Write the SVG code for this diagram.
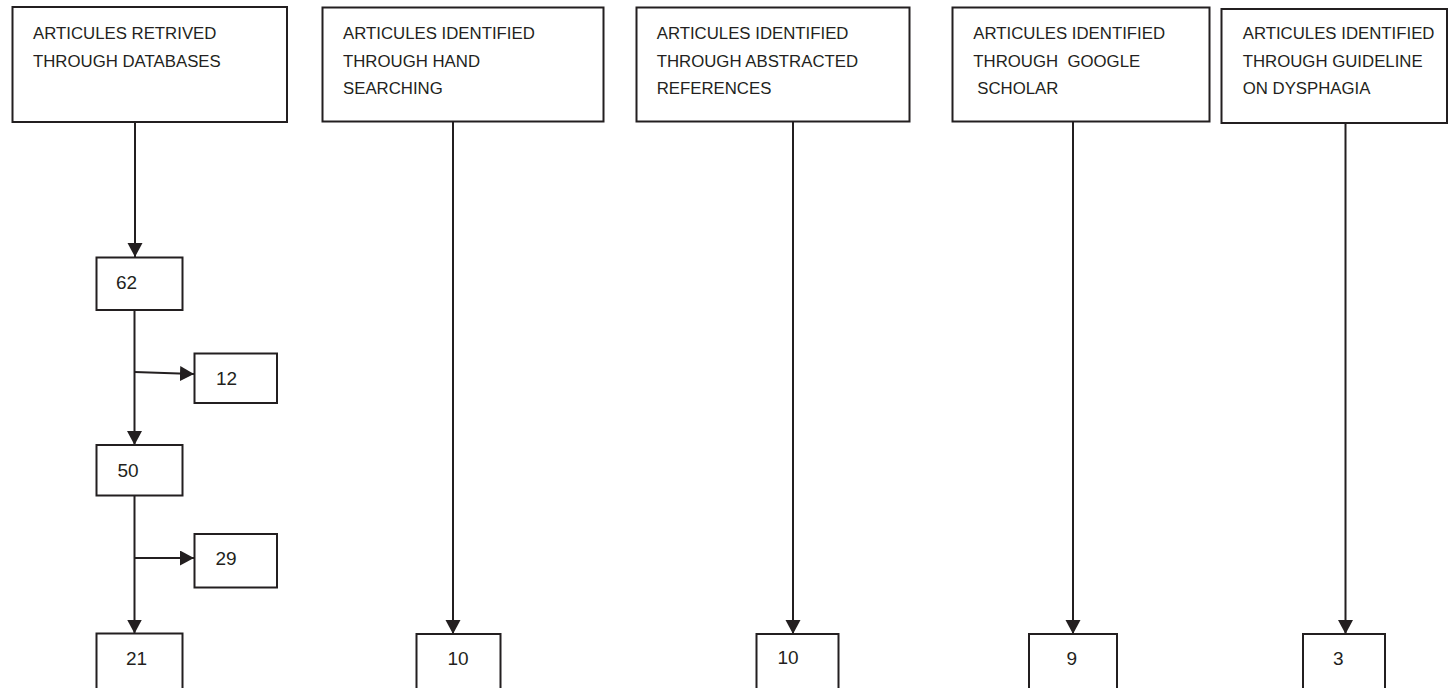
<svg xmlns="http://www.w3.org/2000/svg" width="1449" height="688" viewBox="0 0 1449 688">
  <style>
    .box { fill: #ffffff; stroke: #231f20; stroke-width: 2; }
    .hdr { font-family: "Liberation Sans", Arial, sans-serif; font-size: 16.8px; fill: #231f20; }
    .num { font-family: "Liberation Sans", Arial, sans-serif; font-size: 19px; fill: #231f20; }
    .conn { fill: none; stroke: #231f20; stroke-width: 2; }
  </style>
  <defs>
    <marker id="arrow" markerUnits="userSpaceOnUse" markerWidth="15" markerHeight="16" refX="14" refY="7.5" orient="auto">
      <path d="M0,0 L14,7.5 L0,15 z" fill="#231f20"/>
    </marker>
  </defs>
  <rect width="1449" height="688" fill="#ffffff"/>

  <g id="connectors">
    <line class="conn" x1="135" y1="122" x2="135" y2="257" marker-end="url(#arrow)"/>
    <line class="conn" x1="134.5" y1="310" x2="134.5" y2="445" marker-end="url(#arrow)"/>
    <line class="conn" x1="134.5" y1="372" x2="194" y2="374" marker-end="url(#arrow)"/>
    <line class="conn" x1="134.5" y1="496" x2="134.5" y2="633.5" marker-end="url(#arrow)"/>
    <line class="conn" x1="134.5" y1="558" x2="194" y2="558" marker-end="url(#arrow)"/>
    <line class="conn" x1="453" y1="122" x2="453" y2="634" marker-end="url(#arrow)"/>
    <line class="conn" x1="793" y1="122" x2="793" y2="634" marker-end="url(#arrow)"/>
    <line class="conn" x1="1073" y1="122" x2="1073" y2="634" marker-end="url(#arrow)"/>
    <line class="conn" x1="1345.5" y1="123" x2="1345.5" y2="634" marker-end="url(#arrow)"/>
  </g>

  <g id="src-databases">
    <rect class="box" x="12.5" y="7" width="274.5" height="115"/>
    <text class="hdr" x="33" y="39">ARTICULES RETRIVED</text>
    <text class="hdr" x="33" y="67">THROUGH DATABASES</text>
  </g>
  <g id="src-hand">
    <rect class="box" x="322.5" y="7.5" width="281" height="114"/>
    <text class="hdr" x="343" y="39">ARTICULES IDENTIFIED</text>
    <text class="hdr" x="343" y="66.7">THROUGH HAND</text>
    <text class="hdr" x="343" y="94">SEARCHING</text>
  </g>
  <g id="src-abstracted">
    <rect class="box" x="636.5" y="7.5" width="273" height="114"/>
    <text class="hdr" x="656.7" y="39">ARTICULES IDENTIFIED</text>
    <text class="hdr" x="656.7" y="66.7">THROUGH ABSTRACTED</text>
    <text class="hdr" x="656.7" y="94">REFERENCES</text>
  </g>
  <g id="src-scholar">
    <rect class="box" x="952.5" y="7.5" width="257" height="114"/>
    <text class="hdr" x="973.3" y="39">ARTICULES IDENTIFIED</text>
    <text class="hdr" x="973.3" y="66.7" xml:space="preserve">THROUGH  GOOGLE</text>
    <text class="hdr" x="977.3" y="94">SCHOLAR</text>
  </g>
  <g id="src-guideline">
    <rect class="box" x="1221.5" y="9" width="225.5" height="114"/>
    <text class="hdr" x="1242.7" y="39">ARTICULES IDENTIFIED</text>
    <text class="hdr" x="1242.7" y="66.7">THROUGH GUIDELINE</text>
    <text class="hdr" x="1242.7" y="94">ON DYSPHAGIA</text>
  </g>

  <g id="n62">
    <rect class="box" x="96.5" y="257.5" width="86" height="52.5"/>
    <text class="num" x="116" y="289">62</text>
  </g>
  <g id="n12">
    <rect class="box" x="194.5" y="353.5" width="82.5" height="49.5"/>
    <text class="num" x="216" y="385">12</text>
  </g>
  <g id="n50">
    <rect class="box" x="96.5" y="445" width="86" height="50.5"/>
    <text class="num" x="117.5" y="477">50</text>
  </g>
  <g id="n29">
    <rect class="box" x="194.5" y="534" width="82.5" height="53.5"/>
    <text class="num" x="215.5" y="565">29</text>
  </g>
  <g id="n21">
    <rect class="box" x="96.5" y="633.5" width="86" height="57"/>
    <text class="num" x="126" y="664.5">21</text>
  </g>
  <g id="n10a">
    <rect class="box" x="416.5" y="634" width="84" height="57"/>
    <text class="num" x="447.5" y="665">10</text>
  </g>
  <g id="n10b">
    <rect class="box" x="756.5" y="634" width="82" height="57"/>
    <text class="num" x="777.5" y="664">10</text>
  </g>
  <g id="n9">
    <rect class="box" x="1029" y="634" width="88" height="57"/>
    <text class="num" x="1066.5" y="665">9</text>
  </g>
  <g id="n3">
    <rect class="box" x="1303" y="634" width="82" height="57"/>
    <text class="num" x="1333" y="665">3</text>
  </g>
</svg>
